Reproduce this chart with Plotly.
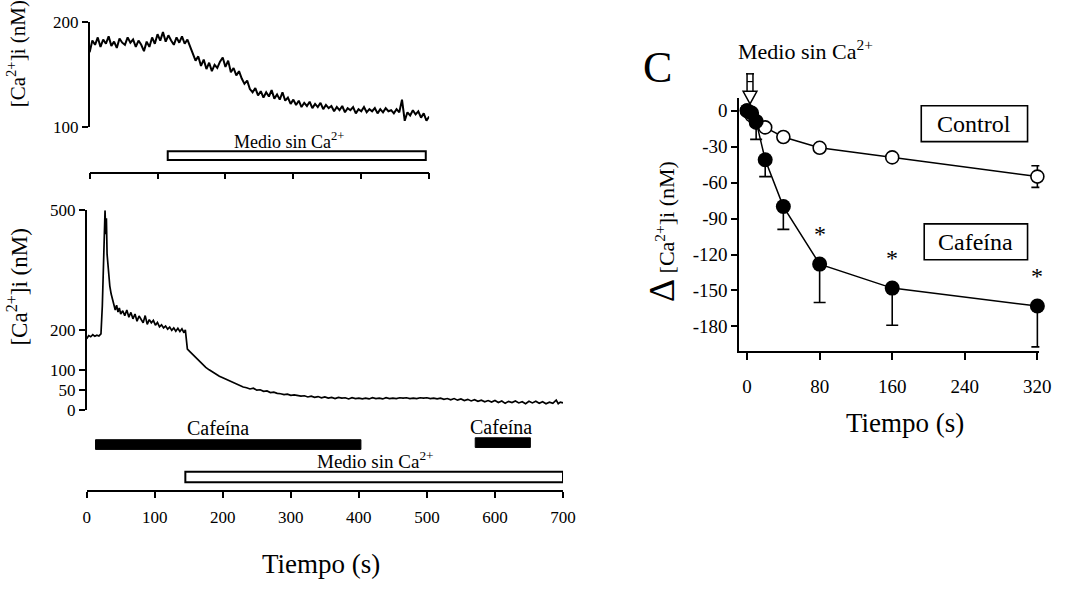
import plotly.graph_objects as go

W, H = 1075, 592
FONT = "Liberation Serif"

# ---------------- data ----------------
# Panel A (top): [Ca2+]i trace, medio sin Ca2+ from ~115 s
top_time = list(range(0, 501, 4))
top_ca = [171, 182, 178, 185, 176, 183, 179, 186, 177, 181, 175, 184, 180, 178, 185, 180,
          183, 176, 182, 178, 172, 181, 176, 185, 179, 188, 182, 190, 181, 187,
          182, 178, 185, 180, 186, 179, 183, 176, 170, 163, 167, 158, 164, 155, 161, 153,
          159, 156, 162, 166, 157, 163, 152, 156, 149, 153, 146, 141, 144, 136, 133, 137,
          130, 134, 128, 133, 129, 135, 127, 131, 126, 133, 125, 128, 122, 126, 121, 125,
          119, 123, 120, 124, 118, 122, 119, 123, 117, 121, 118, 120, 115, 119, 116, 120,
          114, 118, 116, 119, 113, 117, 115, 119, 114, 117, 115, 118, 113, 117, 114, 118,
          115, 116, 113, 117, 114, 126, 106, 114, 111, 116, 112, 115, 109, 113, 106, 110]
top_medio = [115, 495]

# Panel B (bottom): caffeine pulses + medio sin Ca2+
bot_time = [0, 3, 6, 9, 12, 15, 18, 21, 23, 25, 26, 27, 28, 29, 30, 32, 34, 36, 38, 40,
            42, 44, 46, 48, 50, 53, 56, 59, 62, 65, 68, 71, 74, 77, 80, 83, 86, 89, 92, 95,
            98, 101, 104, 107, 110, 113, 116, 119, 122, 125, 128, 131, 134, 137, 140, 143,
            145, 146, 148, 152, 156, 160, 165, 170, 175, 180, 185, 190, 195, 200, 205, 210,
            215, 220, 225, 230, 235, 240, 245, 250, 255, 260, 265, 270, 275, 280, 285, 290,
            295, 300, 305, 310, 315, 320, 325, 330, 335, 340, 345, 350, 355, 360, 365, 370,
            375, 380, 385, 390, 395, 400, 405, 410, 415, 420, 425, 430, 435, 440, 445, 450,
            455, 460, 465, 470, 475, 480, 485, 490, 495, 500, 505, 510, 515, 520, 525, 530,
            535, 540, 545, 550, 555, 560, 565, 570, 575, 580, 585, 590, 595, 600, 605, 610,
            615, 620, 625, 630, 635, 640, 645, 650, 655, 660, 665, 670, 675, 680, 685, 690,
            693, 696, 700]
bot_ca = [178, 186, 183, 188, 184, 187, 185, 190, 260, 380, 470, 500, 440, 480, 390, 340,
          310, 290, 275, 262, 250, 262, 245, 255, 240, 248, 236, 250, 232, 244, 228, 240,
          222, 235, 226, 218, 236, 214, 226, 218, 224, 212, 219, 208, 213, 205, 210, 202,
          207, 199, 205, 197, 204, 196, 203, 193, 200, 175, 152, 145, 138, 130, 121, 113,
          106, 100, 94, 89, 84, 80, 76, 71, 68, 64, 60, 57, 55, 52, 54, 49, 50, 46, 47, 43,
          44, 41, 40, 38, 39, 36, 37, 35, 34, 35, 32, 34, 31, 33, 30, 32, 29, 31, 28, 31,
          29, 30, 27, 30, 28, 29, 27, 29, 27, 30, 28, 29, 27, 30, 28, 29, 28, 30, 29, 30,
          28, 29, 28, 30, 29, 30, 28, 29, 27, 29, 26, 28, 25, 28, 24, 27, 23, 26, 22, 25,
          21, 24, 20, 23, 19, 23, 18, 22, 16, 21, 18, 22, 17, 20, 15, 21, 17, 21, 16, 20,
          15, 19, 16, 24, 15, 19, 17]
cafeina_1 = [13, 403]
cafeina_2 = [571, 652]
bot_medio = [145, 700]

# Panel C: change in [Ca2+]i after medio sin Ca2+
c_time = [0, 5, 10, 20, 40, 80, 160, 320]
control_mean = [0, -4, -10, -14, -22, -31, -39, -55]
control_err = [0, 0, 0, 0, 0, 0, 0, 9]
cafeina_mean = [0, -2, -9, -41, -80, -128, -148, -163]
cafeina_err = [0, 0, 15, 14, 19, 32, 31, 34]
signif_times = [80, 160, 320]

top_yticks = [100, 200]
bot_yticks = [0, 50, 100, 200, 500]
bot_xticks = [0, 100, 200, 300, 400, 500, 600, 700]
c_xticks = [0, 80, 160, 240, 320]
c_yticks = [0, -30, -60, -90, -120, -150, -180]
c_yticktext = ["0", "-30", "-60", "-90", "-120", "-150", "-180"]


def px(x):
    return x / W


def py(y):
    return 1 - y / H


fig = go.Figure()

fig.add_trace(go.Scatter(x=top_time, y=top_ca, mode="lines", xaxis="x", yaxis="y",
                         line=dict(color="black", width=2), hoverinfo="skip"))
fig.add_trace(go.Scatter(x=bot_time, y=bot_ca, mode="lines", xaxis="x2", yaxis="y2",
                         line=dict(color="black", width=1.7), hoverinfo="skip",
                         cliponaxis=False))

fig.add_trace(go.Scatter(
    x=c_time, y=control_mean, mode="lines+markers", xaxis="x3", yaxis="y3",
    cliponaxis=False,
    line=dict(color="black", width=1.5),
    marker=dict(symbol="circle", size=13, color="white", line=dict(color="black", width=1.6)),
    error_y=dict(type="data", array=control_err, symmetric=True, color="black",
                 thickness=1.6, width=6)))
fig.add_trace(go.Scatter(
    x=c_time, y=cafeina_mean, mode="lines+markers", xaxis="x3", yaxis="y3",
    cliponaxis=False,
    line=dict(color="black", width=1.5),
    marker=dict(symbol="circle", size=15, color="black"),
    error_y=dict(type="data", symmetric=False, array=[0] * len(c_time),
                 arrayminus=cafeina_err, color="black", thickness=1.6, width=6)))

axis_common = dict(showline=True, linecolor="black", linewidth=1.6, ticks="outside",
                   tickcolor="black", tickwidth=1.6, showgrid=False, zeroline=False,
                   tickfont=dict(family=FONT, size=17, color="black"))

fig.update_layout(
    width=W, height=H, margin=dict(l=0, r=0, t=0, b=0),
    paper_bgcolor="white", plot_bgcolor="white", showlegend=False,
    xaxis=dict(axis_common, domain=[px(87), px(432)], range=[0, 500], anchor="free",
               position=py(169), tickvals=[0, 100, 200, 300, 400, 500], ticklen=6,
               showticklabels=False),
    yaxis=dict(axis_common, domain=[py(122), py(13)], range=[100, 200], anchor="x",
               tickvals=top_yticks, ticklen=6),
    xaxis2=dict(axis_common, domain=[px(84), px(568)], range=[0, 700], anchor="free",
                position=py(498), tickvals=bot_xticks, ticklen=6, ticklabelstandoff=5),
    yaxis2=dict(axis_common, domain=[py(414), py(208)], range=[0, 500], anchor="x2",
                tickvals=bot_yticks, ticklen=6),
    xaxis3=dict(axis_common, domain=[px(747), px(1052)], range=[-8.68, 322.2], anchor="y3",
                tickvals=c_xticks, ticklen=8, ticklabelstandoff=10,
                tickfont=dict(family=FONT, size=19, color="black")),
    yaxis3=dict(axis_common, domain=[py(353), py(92)], range=[-200.2, 10.5], anchor="x3",
                tickvals=c_yticks, ticktext=c_yticktext, ticklen=6,
                tickfont=dict(family=FONT, size=19, color="black")),
)

shapes = []
# bars under panels (in data x units)
shapes.append(dict(type="rect", xref="x", yref="paper", x0=top_medio[0], x1=top_medio[1],
                   y0=py(156), y1=py(147), line=dict(color="black", width=2), fillcolor="white"))
shapes.append(dict(type="rect", xref="x2", yref="paper", x0=cafeina_1[0], x1=cafeina_1[1],
                   y0=py(455), y1=py(445), line=dict(color="black", width=1), fillcolor="black"))
shapes.append(dict(type="rect", xref="x2", yref="paper", x0=cafeina_2[0], x1=cafeina_2[1],
                   y0=py(453), y1=py(443), line=dict(color="black", width=1), fillcolor="black"))
shapes.append(dict(type="rect", xref="x2", yref="paper", x0=bot_medio[0], x1=bot_medio[1],
                   y0=py(489), y1=py(478), line=dict(color="black", width=2), fillcolor="white"))
# boxes in panel C
shapes.append(dict(type="rect", xref="paper", yref="paper", x0=px(932), x1=px(1040),
                   y0=py(137), y1=py(100), line=dict(color="black", width=1.6)))
shapes.append(dict(type="rect", xref="paper", yref="paper", x0=px(935), x1=px(1040),
                   y0=py(259), y1=py(222), line=dict(color="black", width=1.6)))
# open arrow (medio sin Ca2+ applied)
ax = 758
for dx in (-3, 3):
    shapes.append(dict(type="line", xref="paper", yref="paper", x0=px(ax + dx), x1=px(ax + dx),
                       y0=py(66), y1=py(85), line=dict(color="black", width=1.5)))
shapes.append(dict(type="line", xref="paper", yref="paper", x0=px(ax - 4), x1=px(ax + 4),
                   y0=py(67), y1=py(67), line=dict(color="black", width=1.5)))
shapes.append(dict(type="line", xref="paper", yref="paper", x0=px(ax - 3), x1=px(ax + 3),
                   y0=py(75), y1=py(75), line=dict(color="black", width=1.2)))
shapes.append(dict(type="path", xref="paper", yref="paper",
                   path=f"M {px(ax-7)} {py(85)} L {px(ax+7)} {py(85)} L {px(ax)} {py(98)} Z",
                   line=dict(color="black", width=1.5), fillcolor="white"))
fig.update_layout(shapes=shapes)

ann = []


def txt(x, y, text, size, xref="paper", angle=0, xanchor="center"):
    ann.append(dict(x=x if xref != "paper" else px(x), y=py(y), xref=xref, yref="paper",
                    text=text, showarrow=False, textangle=angle, xanchor=xanchor,
                    yanchor="middle", font=dict(family=FONT, size=size, color="black")))


txt(294, 136, "Medio sin Ca<sup>2+</sup>", 18, xref="x")
txt(193, 433, "Cafeína", 20, xref="x2")
txt(609, 432, "Cafeína", 20, xref="x2")
txt(425, 466, "Medio sin Ca<sup>2+</sup>", 19, xref="x2")
txt(322, 573, "Tiempo (s)", 27)
txt(13, 46, "[Ca<sup>2+</sup>]i (nM)", 21, angle=-90)
txt(14, 287, "[Ca<sup>2+</sup>]i (nM)", 23, angle=-90)

txt(915, 428, "Tiempo (s)", 27)
txt(814, 42, "Medio sin Ca<sup>2+</sup>", 22)
txt(664, 60, "C", 44)
txt(986, 119, "Control", 24)
txt(987, 241, "Cafeína", 24)
txt(668, 230, "<span style='font-size:36px'>Δ</span> [Ca<sup>2+</sup>]i (nM)", 22, angle=-90)

for t in signif_times:
    v = cafeina_mean[c_time.index(t)]
    ann.append(dict(x=t, y=v, xref="x3", yref="y3", text="*", showarrow=False,
                    yshift=30, font=dict(family=FONT, size=24, color="black")))

fig.update_layout(annotations=ann)

fig.write_html("out.html")
